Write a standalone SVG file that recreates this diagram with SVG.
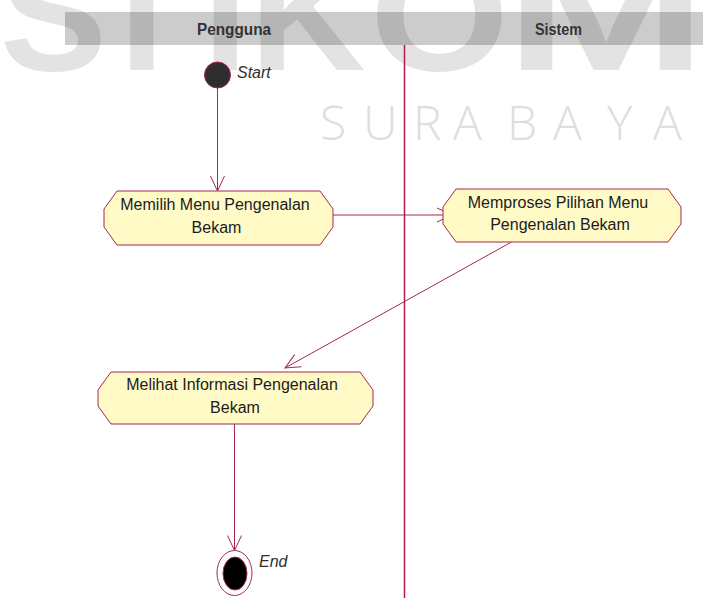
<svg xmlns="http://www.w3.org/2000/svg" width="703" height="598" viewBox="0 0 703 598">
  <style>
    .wm { font-family: "Liberation Sans", Arial, sans-serif; font-weight: bold; font-size: 160px; }
    .wm2 { font-family: "Open Sans", "Liberation Sans", sans-serif; font-weight: 300; font-size: 48px; }
    .lane { font-family: "Liberation Sans", Arial, sans-serif; font-weight: bold; font-size: 16px; fill: #333333; }
    .node { fill: #fffac6; stroke: #a3284f; stroke-width: 1; }
    .label { font-family: "Liberation Sans", Arial, sans-serif; font-size: 16px; fill: #1c1c1c; text-anchor: middle; }
    .tag { font-family: "Liberation Sans", Arial, sans-serif; font-style: italic; font-size: 16px; fill: #2e2e2e; }
    .flow { fill: none; stroke: #a3294f; stroke-width: 1; }
  </style>
  <defs>
    <marker id="arrow" markerUnits="userSpaceOnUse" markerWidth="17" markerHeight="16" viewBox="0 0 17 16" refX="16" refY="8" orient="auto">
      <path d="M1,1 L16,8 L1,15" fill="none" stroke="#a3294f" stroke-width="1"/>
    </marker>
  </defs>

  <rect width="703" height="598" fill="#ffffff"/>

  <!-- background lettering -->
  <g id="watermark" fill="#e3e3e3">
    <text class="wm" fill="#e3e3e3" x="0" y="70">S</text>
    <text class="wm" fill="#e3e3e3" x="93" y="70">T</text>
    <text class="wm" fill="#e3e3e3" x="203" y="70">I</text>
    <text class="wm" fill="#e3e3e3" x="250" y="70">K</text>
    <text class="wm" fill="#e3e3e3" x="370" y="70" textLength="139" lengthAdjust="spacingAndGlyphs">O</text>
    <text class="wm" fill="#e3e3e3" x="505" y="70" textLength="202" lengthAdjust="spacingAndGlyphs">M</text>
    <text class="wm2" fill="#dedede" y="140" x="320 363 413 453 507 553 607 653">SURABAYA</text>
  </g>

  <!-- swimlanes: translucent header band, lane names, divider -->
  <g id="lanes">
    <rect x="65" y="12" width="638" height="33" fill="#000000" fill-opacity="0.2"/>
    <text class="lane" x="197" y="35" textLength="74" lengthAdjust="spacingAndGlyphs">Pengguna</text>
    <text class="lane" x="535" y="35" textLength="47" lengthAdjust="spacingAndGlyphs">Sistem</text>
    <line x1="404.5" y1="45" x2="404.5" y2="598" stroke="#b51a4e" stroke-width="1.5"/>
  </g>

  <!-- connectors -->
  <g id="connectors">
    <line class="flow" x1="217.5" y1="88" x2="217.5" y2="191" marker-end="url(#arrow)"/>
    <line class="flow" x1="333" y1="215" x2="452" y2="215" marker-end="url(#arrow)"/>
    <line class="flow" x1="511.5" y1="242" x2="285" y2="368" marker-end="url(#arrow)"/>
    <line class="flow" x1="234.5" y1="424" x2="234.5" y2="550.5" marker-end="url(#arrow)"/>
  </g>

  <!-- start -->
  <g id="start">
    <ellipse cx="217.5" cy="75" rx="13" ry="13" fill="#2e2e2e" stroke="#a3284f" stroke-width="1"/>
    <text class="tag" x="237" y="78">Start</text>
  </g>

  <!-- activity: Memilih Menu Pengenalan Bekam -->
  <g id="memilih-menu">
    <path class="node" d="M117,191 L320,191 L333,209 L333,227 L320,245 L117,245 L104,227 L104,209 Z"/>
    <text class="label" x="215" y="210">Memilih Menu Pengenalan</text>
    <text class="label" x="216.5" y="233">Bekam</text>
  </g>

  <!-- activity: Memproses Pilihan Menu Pengenalan Bekam -->
  <g id="memproses-pilihan">
    <path class="node" d="M456,189 L668,189 L681,207 L681,224 L668,242 L456,242 L443,224 L443,207 Z"/>
    <text class="label" x="558" y="208">Memproses Pilihan Menu</text>
    <text class="label" x="560" y="230">Pengenalan Bekam</text>
  </g>

  <!-- activity: Melihat Informasi Pengenalan Bekam -->
  <g id="melihat-informasi">
    <path class="node" d="M111,372 L360,372 L373,390 L373,406 L360,424 L111,424 L98,406 L98,390 Z"/>
    <text class="label" x="232" y="390">Melihat Informasi Pengenalan</text>
    <text class="label" x="235" y="413">Bekam</text>
  </g>

  <!-- end -->
  <g id="end">
    <ellipse cx="234.5" cy="573" rx="17.5" ry="22.5" fill="#ffffff" stroke="#a3284f" stroke-width="1"/>
    <ellipse cx="235" cy="573.5" rx="12" ry="16.5" fill="#000000" stroke="#a3284f" stroke-width="1"/>
    <text class="tag" x="259" y="567">End</text>
  </g>
</svg>
